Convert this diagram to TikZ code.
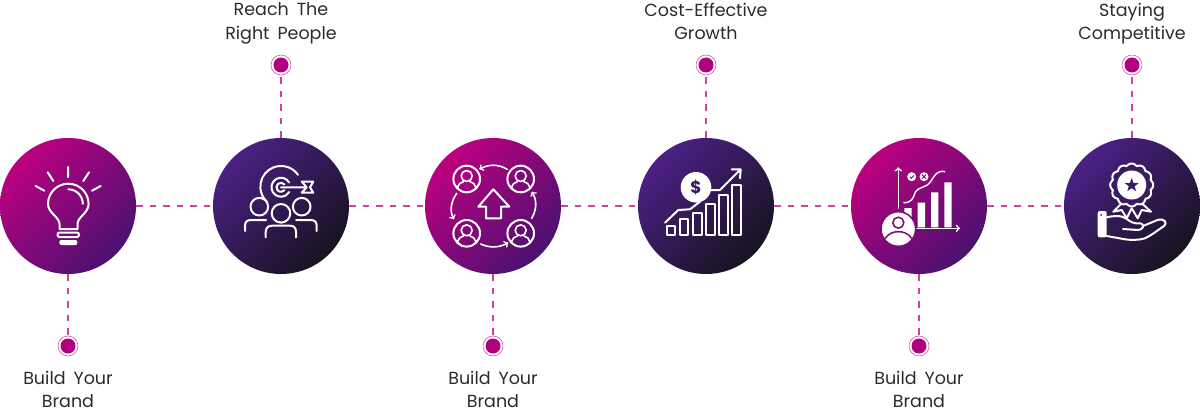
\documentclass[tikz,border=0pt]{standalone}
\usepackage{fontspec}
\setmainfont{Poppins}[WordSpace=1.7]
\definecolor{dashpink}{HTML}{D2409F}
\definecolor{dotmagenta}{HTML}{B0007F}
\definecolor{labelgray}{HTML}{2B2B2B}
\definecolor{magentatop}{HTML}{BC0080}
\definecolor{magentacentre}{HTML}{850677}
\definecolor{magentaend}{HTML}{4A1170}
\definecolor{violettop}{HTML}{4B2085}
\definecolor{violetcentre}{HTML}{3A1C64}
\definecolor{violetend}{HTML}{17131F}
\definecolor{magentamid}{HTML}{7A0A78}
\definecolor{violetmid}{HTML}{3B1B62}
\tikzset{
  magentadisc/.style={circle,minimum size=136pt,inner sep=0pt,shading=axis,
    top color=magentatop,middle color=magentacentre,bottom color=magentaend,shading angle=45},
  violetdisc/.style={circle,minimum size=136pt,inner sep=0pt,shading=axis,
    top color=violettop,middle color=violetcentre,bottom color=violetend,shading angle=45},
  enddot/.style={circle,draw=dashpink,line width=0.5pt,minimum size=20pt,inner sep=0pt,
    path picture={\fill[dotmagenta] (path picture bounding box.center) circle (7.5pt);}},
  dashline/.style={dashpink,line width=1.25pt,dash pattern=on 6.5pt off 7pt},
  caption/.style={anchor=north,align=center,text=labelgray,font=\fontsize{17.5}{23.4}\selectfont,inner sep=0pt},
  iconline/.style={white,line width=2pt,line cap=round,line join=round},
  iconthin/.style={iconline,line width=1.6pt}
}
% person in a ring, #1 = centre
\newcommand{\ringperson}[1]{
  \begin{scope}[shift={#1}]
    \draw[iconline] (0,0) circle (13.3);
    \draw[iconthin] (0,-3) circle (5.5);
    \draw[iconthin] (-9,9.5) -- (-9,8) .. controls (-9,5) and (-6,4) .. (-3,2.5)
      (9,9.5) -- (9,8) .. controls (9,5) and (6,4) .. (3,2.5);
  \end{scope}
}
\begin{document}
\begin{tikzpicture}[x=1pt,y=-1pt]
  \useasboundingbox (0,0) rectangle (1200,412);

  % discs
  \node[magentadisc] (bulb) at (68,206) {};
  \node[violetdisc] (target) at (281,206) {};
  \node[magentadisc] (network) at (493,206) {};
  \node[violetdisc] (coin) at (706,206) {};
  \node[magentadisc] (chart) at (919,206) {};
  \node[violetdisc] (award) at (1132,206) {};

  % end dots
  \node[enddot] (dotbulb) at (68,346) {};
  \node[enddot] (dottarget) at (281,65) {};
  \node[enddot] (dotnetwork) at (493,346) {};
  \node[enddot] (dotcoin) at (706,65) {};
  \node[enddot] (dotchart) at (919,346) {};
  \node[enddot] (dotaward) at (1132,65) {};

  % connectors
  \draw[dashline] (bulb) -- (target);
  \draw[dashline] (target) -- (network);
  \draw[dashline] (network) -- (coin);
  \draw[dashline] (coin) -- (chart);
  \draw[dashline] (chart) -- (award);
  \draw[dashline] (bulb) -- (dotbulb);
  \draw[dashline] (target) -- (dottarget);
  \draw[dashline] (network) -- (dotnetwork);
  \draw[dashline] (coin) -- (dotcoin);
  \draw[dashline] (chart) -- (dotchart);
  \draw[dashline] (award) -- (dotaward);

  % labels
  \node[caption] (capbulb) at (68,370.5) {Build Your\\Brand};
  \node[caption] (captarget) at (281,2.5) {Reach The\\Right People};
  \node[caption] (capnetwork) at (493,370.5) {Build Your\\Brand};
  \node[caption] (capcoin) at (706,2.5) {Cost-Effective\\Growth};
  \node[caption] (capchart) at (919,370.5) {Build Your\\Brand};
  \node[caption] (capaward) at (1132,2.5) {Staying\\Competitive};

  % bulb icon
  \draw[iconline] (59.5,229) -- (59.5,224) .. controls (59.5,217) and (48,213) .. (48,204)
    arc[start angle=180,end angle=360,radius=20.3]
    .. controls (88.6,213) and (77.5,217) .. (77.5,224) -- (77.5,229) -- cycle;
  \draw[iconline] (68.3,189.3) arc[start angle=270,end angle=360,radius=14.5];
  \draw[iconline] (68,167) -- (68,177) (47.7,172.3) -- (53.3,181) (89,172.3) -- (83.3,181)
    (35.7,186) -- (44.3,190.7) (100.7,186) -- (92,190.7);
  \draw[iconline,rounded corners=2pt] (57.5,232.5) rectangle (79,237);
  \fill[white,rounded corners=2pt] (59.3,240) rectangle (77.3,245);

  % target icon
  \draw[iconline] (298,174.8) arc[start angle=-35,end angle=-228,radius=20.7];
  \draw[iconline] (289.2,182.5) arc[start angle=-30,end angle=-330,radius=9.5];
  \draw[iconline] (284.4,184.4) arc[start angle=-40,end angle=-320,radius=4.5];
  \draw[iconline] (281,187.3) -- (306.7,187.3)
    (301.7,181.7) -- (313.3,181.7) -- (310,187.3) -- (313.3,192.7) -- (301.7,192.7) -- (306.7,187.3) -- cycle;
  \draw[iconline] (259.3,206.7) circle (8.8) (301.7,206.7) circle (8.8);
  \draw[iconline] (281,213.3) circle (9.3);
  \draw[iconline] (245,231) -- (245,226) .. controls (245,222) and (247,220) .. (251,220) -- (266,220);
  \draw[iconline] (316.7,231) -- (316.7,226) .. controls (316.7,222) and (314.7,220) .. (310.7,220) -- (296,220);
  \draw[iconline] (265.7,237.3) -- (265.7,232) .. controls (265.7,228) and (268,225.7) .. (272,225.7) -- (290,225.7)
    .. controls (294,225.7) and (296,228) .. (296,232) -- (296,237.3);

  % network icon
  \ringperson{(466.7,179)}
  \ringperson{(520.7,179)}
  \ringperson{(466.7,233.3)}
  \ringperson{(520.7,233.3)}
  \draw[iconline] (493.3,189.3) -- (478.3,206.7) -- (486,206.7) -- (486,218.3) -- (501,218.3) -- (501,206.7) -- (509.3,206.7) -- cycle;
  \draw[iconthin,->] (507.3,169.3) .. controls (498,164) and (489,164) .. (479.3,169.3);
  \draw[iconthin,->] (531.7,218.3) .. controls (537,209) and (537,200) .. (531.7,191.7);
  \draw[iconthin,->] (480.7,244) .. controls (489,248) and (499,248) .. (508.3,242.7);
  \draw[iconthin,->] (456.7,193.3) .. controls (450,203) and (450,212) .. (454,219.3);

  % coin and bars icon
  \draw[iconline] (666.7,226) rectangle (675,235) (680,219.3) rectangle (688.3,235)
    (692.7,213.3) rectangle (702,235) (706,204) rectangle (715,235)
    (719,195) rectangle (727.7,235) (732.3,185) rectangle (740.7,235);
  \draw[iconline] (665,222.7) -- (678.3,210) -- (690,209.3) -- (700,201.7) (710,190) -- (720,190) -- (740.7,169.3)
    (731.7,169.3) -- (740.7,169.3) -- (740,178.3);
  \fill[white] (696,187.3) circle (15.3);
  \node[text=violetmid,font=\fontsize{17}{17}\selectfont\bfseries,inner sep=0pt] (dollar) at (696,187.3) {\$};

  % growth chart icon
  \draw[iconthin,->] (898.3,208) -- (898.3,167.3);
  \draw[iconthin,->] (916.7,228.3) -- (960,228.3);
  \fill[white] (904.3,208) rectangle (911.7,228) (917.7,202.7) rectangle (925,227.3)
    (931,192.3) rectangle (938.3,227.3) (944.3,182.3) rectangle (951.7,227.3);
  \draw[white,line width=1.4pt] (903.3,202.7) .. controls (911,203) and (913,199) .. (915,193)
    .. controls (918,186) and (926,189) .. (931,181) .. controls (935,175) and (937,170) .. (945,171.7);
  \fill[white] (911.7,176.7) circle (4.5) (924,176.7) circle (4.5);
  \draw[magentamid,line width=0.9pt] (909.7,176.7) -- (911.2,178.2) -- (914,175.4)
    (922,174.7) -- (926,178.7) (926,174.7) -- (922,178.7);
  \draw[fill=white,draw=magentamid,line width=1.5pt] (898.3,229) circle (17.3);
  \draw[magentamid,line width=1.5pt] (898.3,222.7) circle (5.5);
  \draw[magentamid,line width=1.5pt] (885,238.5) .. controls (889,233) and (894,231.7) .. (898.3,231.7)
    .. controls (903,231.7) and (908,233) .. (911.7,238.5);

  % award icon
  \draw[iconline] (1123.3,201.7) -- (1113.3,211.7) -- (1121.7,210) -- (1126.7,218.3) -- (1131.7,208.3)
    -- (1137.7,218.3) -- (1141.7,210) -- (1151,211.7) -- (1140,201.7);
  \draw[iconline,fill=violetmid] plot[domain=0:360,samples=145,smooth] ({1131.7+(19.5+2*abs(cos(6*\x)))*cos(\x)},{185+(19.5+2*abs(cos(6*\x)))*sin(\x)}) -- cycle;
  \fill[white] (1131.7,185) circle (14.5);
  \fill[violetmid] (1131.7,178)
    -- (1133.5,183) -- (1138.7,183.1) -- (1134.6,186.2) -- (1136,191) -- (1131.7,188.2)
    -- (1127.4,191) -- (1128.8,186.2) -- (1124.7,183.1) -- (1129.9,183) -- cycle;
  \fill[white,rounded corners=2pt] (1097.7,211) rectangle (1106.7,237.3);
  \fill[violetmid] (1101,215) circle (1);
  \draw[iconline] (1106.7,217.3) .. controls (1113,216) and (1118,215.5) .. (1122,216.7)
    .. controls (1128,218.5) and (1130,223) .. (1136,223.3) -- (1141,223.5)
    .. controls (1145,224.5) and (1143,230) .. (1138,230) -- (1123,229);
  \draw[iconline] (1143,226) -- (1158,219.8) .. controls (1164,218) and (1168,223) .. (1164,226)
    .. controls (1158,230) and (1152,235) .. (1145,238.3)
    .. controls (1138,240.5) and (1130,240) .. (1125,239.3) -- (1106.7,236);
\end{tikzpicture}
\end{document}
